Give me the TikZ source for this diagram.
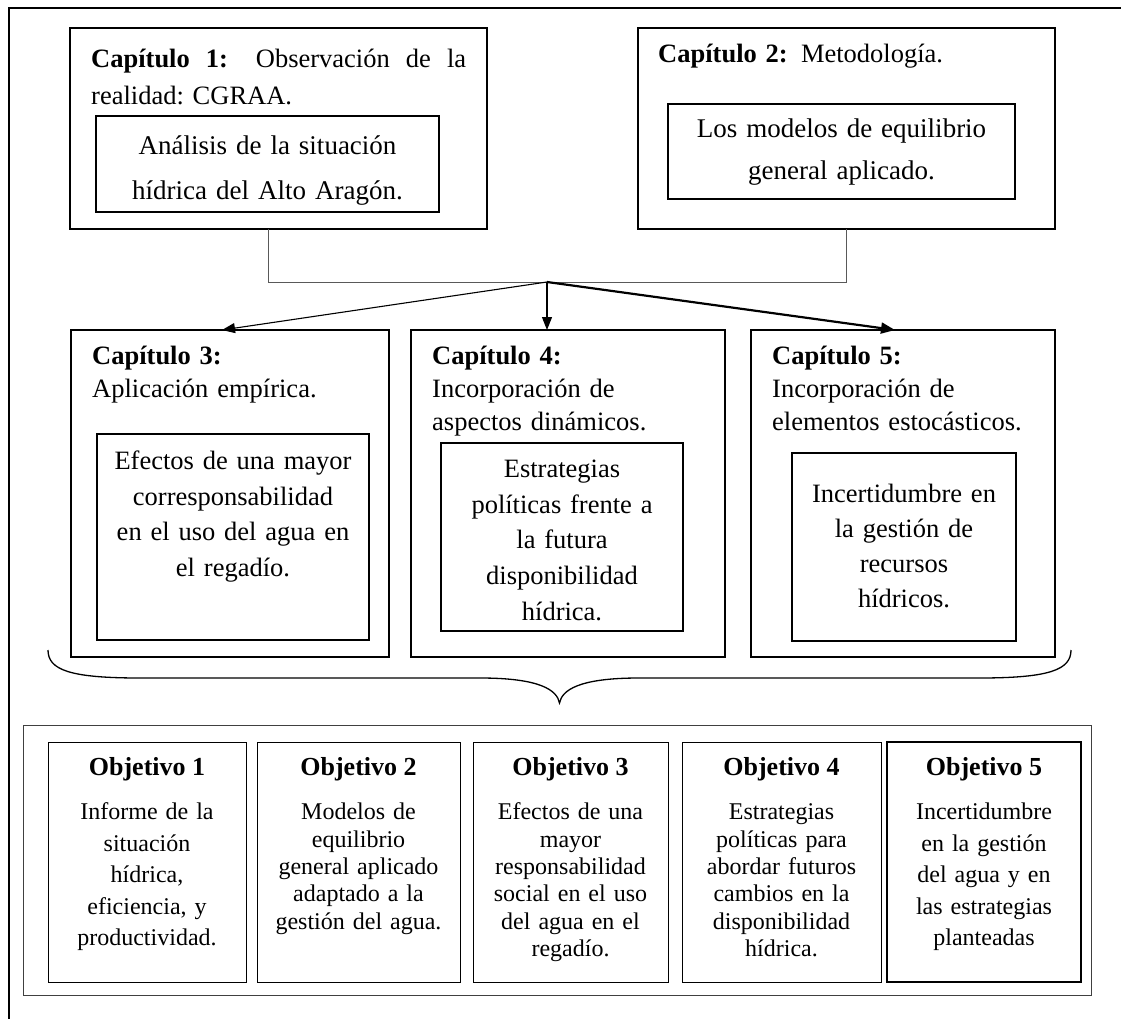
\documentclass[tikz,border=0pt]{standalone}
\usepackage{fontspec}
\setmainfont{Liberation Serif}
\usetikzlibrary{arrows.meta}
\begin{document}
\begin{tikzpicture}[x=1pt,y=-1pt,
  chapbox/.style={draw, line width=2pt, inner sep=0pt, outer sep=0pt, anchor=north west},
  subbox/.style={draw, line width=1.4pt, inner sep=0pt, outer sep=0pt, anchor=north west},
  objbox/.style={draw, line width=1pt, inner sep=0pt, outer sep=0pt, anchor=north west},
  goalframe/.style={draw=black!75, line width=1pt, inner sep=0pt, outer sep=0pt, anchor=north west},
  chaptitle/.style={inner sep=0pt, anchor=base west, align=left, text width=290pt,
    font=\fontsize{26.5}{#1}\selectfont},
  subtext/.style={inner sep=0pt, anchor=base, align=center, text width=#1},
  objtitle/.style={inner sep=0pt, anchor=base, font=\fontsize{26}{30}\selectfont\bfseries},
  objtext/.style={inner sep=0pt, anchor=base, align=center, text width=190pt,
    font=\fontsize{24}{#1}\selectfont},
  link/.style={draw=black!65, line width=0.8pt},
  thinarrow/.style={line width=1.1pt, -{Triangle[length=13pt,width=10pt]}},
  boldarrow/.style={line width=2.2pt, -{Triangle[length=14pt,width=11pt]}}
]
\useasboundingbox (0,0) rectangle (1121,1019);

% page frame (top and left rules)
\draw[line width=2pt] (1121,8.5) -- (8.5,8.5) -- (8.5,1019);

% chapters 1 and 2
\node[chapbox, minimum width=417pt, minimum height=201pt] (c1) at (70,28) {};
\node[chapbox, minimum width=417pt, minimum height=201pt] (c2) at (638,28) {};
\node[subbox, minimum width=343pt, minimum height=96pt] (s1) at (96,116) {};
\node[subbox, minimum width=347pt, minimum height=95pt] (s2) at (668,104) {};

\node[inner sep=0pt, anchor=base west, align=justify, text width=375pt,
      font=\fontsize{26.5}{37}\selectfont] (c1t) at (91,67.5)
  {\textbf{Capítulo 1:} Observación de la\linebreak realidad: CGRAA.};
\node[chaptitle=33] (c2t) at (658,62.5) {\textbf{Capítulo 2:} Metodología.};

\node[subtext=330pt, font=\fontsize{27}{45}\selectfont] (s1t) at (267.5,155)
  {Análisis de la situación\\hídrica del Alto Aragón.};
\node[subtext=330pt, font=\fontsize{27}{42}\selectfont] (s2t) at (841.5,138)
  {Los modelos de equilibrio\\general aplicado.};

% chapters 3 to 5
\node[chapbox, minimum width=318pt, minimum height=327pt] (c3) at (71,330) {};
\node[chapbox, minimum width=314pt, minimum height=327pt] (c4) at (411,330) {};
\node[chapbox, minimum width=304pt, minimum height=327pt] (c5) at (751,330) {};
\node[subbox, minimum width=272pt, minimum height=206pt] (s3) at (97,434) {};
\node[subbox, minimum width=242pt, minimum height=188pt] (s4) at (441,443) {};
\node[subbox, minimum width=224pt, minimum height=188pt] (s5) at (792,453) {};

\node[chaptitle=33] (c3t) at (92,364.5) {\textbf{Capítulo 3:}\\Aplicación empírica.};
\node[chaptitle=33] (c4t) at (432,364.5) {\textbf{Capítulo 4:}\\Incorporación de\\aspectos dinámicos.};
\node[chaptitle=33] (c5t) at (772,364.5) {\textbf{Capítulo 5:}\\Incorporación de\\elementos estocásticos.};

\node[subtext=262pt, font=\fontsize{26.5}{35.5}\selectfont] (s3t) at (233,469.5)
  {Efectos de una mayor\\corresponsabilidad\\en el uso del agua en\\el regadío.};
\node[subtext=232pt, font=\fontsize{26.5}{35.7}\selectfont] (s4t) at (562,477.5)
  {Estrategias\\políticas frente a\\la futura\\disponibilidad\\hídrica.};
\node[subtext=214pt, font=\fontsize{26.5}{35}\selectfont] (s5t) at (904,502.5)
  {Incertidumbre en\\la gestión de\\recursos\\hídricos.};

% connectors
\coordinate (hub) at (547,282);
\draw[link] ([xshift=-10.5pt]c1.south) |- (hub);
\draw[link] (c2.south) |- (hub);
\draw[thinarrow] (hub) -- ([xshift=-8pt]c3.north);
\draw[thinarrow] (hub) -- (hub |- c4.north);
\draw[boldarrow] (hub) -- ([xshift=-8pt]c5.north);

% brace gathering the chapters
\draw[line width=1.3pt]
  (48,650) .. controls (48,670) and (70,678) .. (140,678) -- (480,678)
  .. controls (540,678) and (557,690) .. (559.5,703)
  .. controls (562,690) and (579,678) .. (639,678) -- (979,678)
  .. controls (1049,678) and (1071,670) .. (1071,650);

% objectives
\node[goalframe, minimum width=1068pt, minimum height=270pt] (goals) at (23,725) {};
\node[objbox, minimum width=198pt, minimum height=240pt] (o1) at (48,742) {};
\node[objbox, minimum width=203pt, minimum height=240pt] (o2) at (257,742) {};
\node[objbox, minimum width=195pt, minimum height=240pt] (o3) at (473,742) {};
\node[objbox, minimum width=199pt, minimum height=240pt] (o4) at (682,742) {};
\node[objbox, line width=2.6pt, minimum width=194pt, minimum height=240pt] (o5) at (887,742) {};

\node[objtitle] (o1h) at (147,775) {Objetivo 1};
\node[objtitle] (o2h) at (358.5,775) {Objetivo 2};
\node[objtitle] (o3h) at (570.5,775) {Objetivo 3};
\node[objtitle] (o4h) at (781.5,775) {Objetivo 4};
\node[objtitle] (o5h) at (984,775) {Objetivo 5};

\node[objtext=31.5] (o1b) at (147,819.7)
  {Informe de la\\situación\\hídrica,\\eficiencia, y\\productividad.};
\node[objtext=27.4] (o2b) at (358.5,819.7)
  {Modelos de\\equilibrio\\general aplicado\\adaptado a la\\gestión del agua.};
\node[objtext=27.4] (o3b) at (570.5,819.7)
  {Efectos de una\\mayor\\responsabilidad\\social en el uso\\del agua en el\\regadío.};
\node[objtext=27.4] (o4b) at (781.5,819.7)
  {Estrategias\\políticas para\\abordar futuros\\cambios en la\\disponibilidad\\hídrica.};
\node[objtext=31.5] (o5b) at (984,819.7)
  {Incertidumbre\\en la gestión\\del agua y en\\las estrategias\\planteadas};
\end{tikzpicture}
\end{document}
